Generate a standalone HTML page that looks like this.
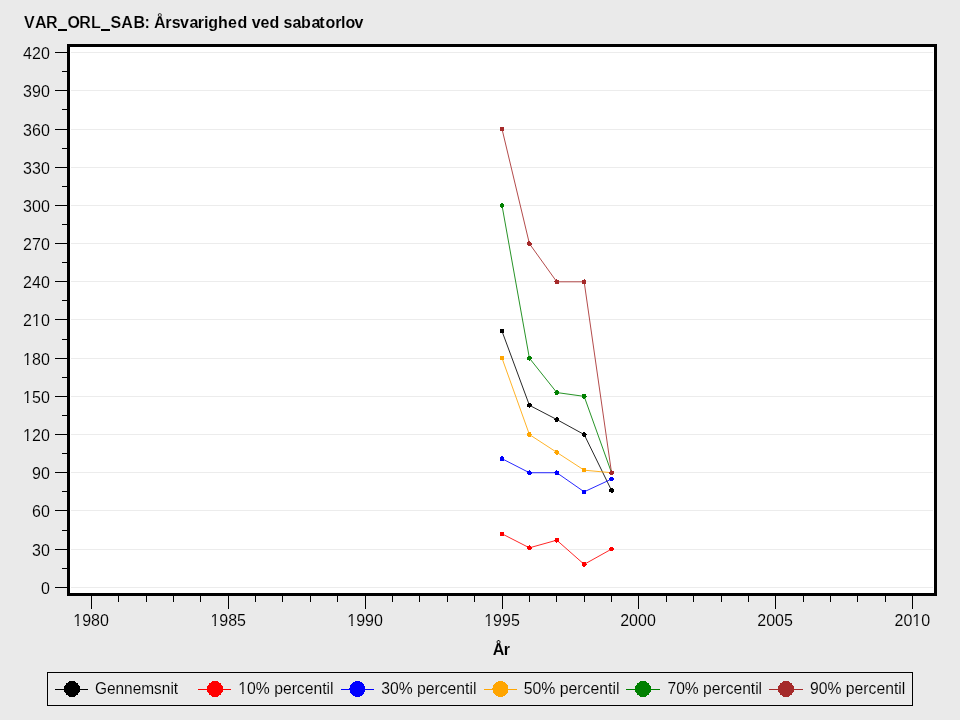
<!DOCTYPE html>
<html><head><meta charset="utf-8"><title>VAR_ORL_SAB</title>
<style>html,body{margin:0;padding:0;background:#EAEAEA;overflow:hidden}svg{display:block}text{font-family:"Liberation Sans",sans-serif;font-size:16px;fill:#000;stroke:#EAEAEA;stroke-width:0.1px}.b{font-weight:bold;stroke:#EAEAEA;stroke-width:0.15px}.c{stroke-width:0.07px}</style></head><body>
<svg width="960" height="720" viewBox="0 0 960 720" style="will-change:transform">
<rect x="0" y="0" width="960" height="720" fill="#EAEAEA"/>
<rect x="70" y="47" width="864" height="546" fill="#fff"/>
<g shape-rendering="crispEdges" fill="#ECECEC">
<rect x="71" y="587" width="862" height="1"/>
<rect x="71" y="549" width="862" height="1"/>
<rect x="71" y="510" width="862" height="1"/>
<rect x="71" y="472" width="862" height="1"/>
<rect x="71" y="434" width="862" height="1"/>
<rect x="71" y="396" width="862" height="1"/>
<rect x="71" y="358" width="862" height="1"/>
<rect x="71" y="319" width="862" height="1"/>
<rect x="71" y="281" width="862" height="1"/>
<rect x="71" y="243" width="862" height="1"/>
<rect x="71" y="205" width="862" height="1"/>
<rect x="71" y="167" width="862" height="1"/>
<rect x="71" y="129" width="862" height="1"/>
<rect x="71" y="90" width="862" height="1"/>
<rect x="71" y="52" width="862" height="1"/>
</g>
<g shape-rendering="crispEdges" fill="#000">
<rect x="67" y="44" width="870" height="3"/>
<rect x="67" y="593" width="870" height="3"/>
<rect x="67" y="44" width="3" height="552"/>
<rect x="934" y="44" width="3" height="552"/>
<rect x="55" y="587" width="12" height="1"/>
<rect x="62" y="568" width="5" height="1"/>
<rect x="55" y="549" width="12" height="1"/>
<rect x="62" y="530" width="5" height="1"/>
<rect x="55" y="510" width="12" height="1"/>
<rect x="62" y="491" width="5" height="1"/>
<rect x="55" y="472" width="12" height="1"/>
<rect x="62" y="453" width="5" height="1"/>
<rect x="55" y="434" width="12" height="1"/>
<rect x="62" y="415" width="5" height="1"/>
<rect x="55" y="396" width="12" height="1"/>
<rect x="62" y="377" width="5" height="1"/>
<rect x="55" y="358" width="12" height="1"/>
<rect x="62" y="339" width="5" height="1"/>
<rect x="55" y="319" width="12" height="1"/>
<rect x="62" y="300" width="5" height="1"/>
<rect x="55" y="281" width="12" height="1"/>
<rect x="62" y="262" width="5" height="1"/>
<rect x="55" y="243" width="12" height="1"/>
<rect x="62" y="224" width="5" height="1"/>
<rect x="55" y="205" width="12" height="1"/>
<rect x="62" y="186" width="5" height="1"/>
<rect x="55" y="167" width="12" height="1"/>
<rect x="62" y="148" width="5" height="1"/>
<rect x="55" y="129" width="12" height="1"/>
<rect x="62" y="109" width="5" height="1"/>
<rect x="55" y="90" width="12" height="1"/>
<rect x="62" y="71" width="5" height="1"/>
<rect x="55" y="52" width="12" height="1"/>
<rect x="91" y="596" width="1" height="13"/>
<rect x="118" y="596" width="1" height="6"/>
<rect x="146" y="596" width="1" height="6"/>
<rect x="173" y="596" width="1" height="6"/>
<rect x="200" y="596" width="1" height="6"/>
<rect x="228" y="596" width="1" height="13"/>
<rect x="255" y="596" width="1" height="6"/>
<rect x="282" y="596" width="1" height="6"/>
<rect x="310" y="596" width="1" height="6"/>
<rect x="337" y="596" width="1" height="6"/>
<rect x="365" y="596" width="1" height="13"/>
<rect x="392" y="596" width="1" height="6"/>
<rect x="419" y="596" width="1" height="6"/>
<rect x="447" y="596" width="1" height="6"/>
<rect x="474" y="596" width="1" height="6"/>
<rect x="502" y="596" width="1" height="13"/>
<rect x="529" y="596" width="1" height="6"/>
<rect x="556" y="596" width="1" height="6"/>
<rect x="584" y="596" width="1" height="6"/>
<rect x="611" y="596" width="1" height="6"/>
<rect x="638" y="596" width="1" height="13"/>
<rect x="666" y="596" width="1" height="6"/>
<rect x="693" y="596" width="1" height="6"/>
<rect x="721" y="596" width="1" height="6"/>
<rect x="748" y="596" width="1" height="6"/>
<rect x="775" y="596" width="1" height="13"/>
<rect x="803" y="596" width="1" height="6"/>
<rect x="830" y="596" width="1" height="6"/>
<rect x="857" y="596" width="1" height="6"/>
<rect x="885" y="596" width="1" height="6"/>
<rect x="912" y="596" width="1" height="13"/>
</g>
<g text-anchor="end">
<text x="50" y="594">0</text>
<text x="50" y="556" textLength="18" lengthAdjust="spacing">30</text>
<text x="50" y="517" textLength="18" lengthAdjust="spacing">60</text>
<text x="50" y="479" textLength="18" lengthAdjust="spacing">90</text>
<text x="50" y="441" textLength="27" lengthAdjust="spacing">120</text>
<text x="50" y="403" textLength="27" lengthAdjust="spacing">150</text>
<text x="50" y="365" textLength="27" lengthAdjust="spacing">180</text>
<text x="50" y="326" textLength="27" lengthAdjust="spacing">210</text>
<text x="50" y="288" textLength="27" lengthAdjust="spacing">240</text>
<text x="50" y="250" textLength="27" lengthAdjust="spacing">270</text>
<text x="50" y="212" textLength="27" lengthAdjust="spacing">300</text>
<text x="50" y="174" textLength="27" lengthAdjust="spacing">330</text>
<text x="50" y="136" textLength="27" lengthAdjust="spacing">360</text>
<text x="50" y="97" textLength="27" lengthAdjust="spacing">390</text>
<text x="50" y="59" textLength="27" lengthAdjust="spacing">420</text>
</g>
<g text-anchor="middle">
<text x="91.1" y="626">1980</text>
<text x="228.2" y="626">1985</text>
<text x="365.1" y="626">1990</text>
<text x="502.0" y="626">1995</text>
<text x="638.0" y="626">2000</text>
<text x="775.1" y="626">2005</text>
<text x="912.3" y="626">2010</text>
<text class="b c" text-anchor="start" x="492.85 503.85" y="655">År</text>
</g>
<text class="b" x="24.00 35.10 46.00 67.40 79.20 90.90 110.50 121.30 133.60 144.50 153.90" y="28">VARORLSAB:Å</text>
<text class="b c" x="165.25 171.70 179.90 189.50 197.65 203.90 208.30 217.90 228.10 237.60 251.80 260.40 269.60 283.40 292.50 300.95 311.50 319.30 325.50 335.20 341.10 345.40 354.50" y="28">rsvarighedvedsabatorlov</text>
<rect x="58" y="29" width="9" height="2" fill="#000" shape-rendering="crispEdges"/>
<rect x="101" y="29" width="9" height="2" fill="#000" shape-rendering="crispEdges"/>
<polyline points="502.02,331.25 529.40,405.27 556.78,419.52 584.16,434.54 611.54,490.42" fill="none" stroke="#000000" stroke-width="0.85"/>
<circle cx="502.02" cy="331.25" r="2.42" fill="#000000" shape-rendering="crispEdges"/>
<circle cx="529.40" cy="405.27" r="2.42" fill="#000000" shape-rendering="crispEdges"/>
<circle cx="556.78" cy="419.52" r="2.42" fill="#000000" shape-rendering="crispEdges"/>
<circle cx="584.16" cy="434.54" r="2.42" fill="#000000" shape-rendering="crispEdges"/>
<circle cx="611.54" cy="490.42" r="2.42" fill="#000000" shape-rendering="crispEdges"/>
<polyline points="502.02,533.82 529.40,547.82 556.78,540.18 584.16,564.37 611.54,549.09" fill="none" stroke="#FF0000" stroke-width="0.85"/>
<circle cx="502.02" cy="533.82" r="2.42" fill="#FF0000" shape-rendering="crispEdges"/>
<circle cx="529.40" cy="547.82" r="2.42" fill="#FF0000" shape-rendering="crispEdges"/>
<circle cx="556.78" cy="540.18" r="2.42" fill="#FF0000" shape-rendering="crispEdges"/>
<circle cx="584.16" cy="564.37" r="2.42" fill="#FF0000" shape-rendering="crispEdges"/>
<circle cx="611.54" cy="549.09" r="2.42" fill="#FF0000" shape-rendering="crispEdges"/>
<polyline points="502.02,458.72 529.40,472.72 556.78,472.72 584.16,491.82 611.54,479.09" fill="none" stroke="#0000FF" stroke-width="0.85"/>
<circle cx="502.02" cy="458.72" r="2.42" fill="#0000FF" shape-rendering="crispEdges"/>
<circle cx="529.40" cy="472.72" r="2.42" fill="#0000FF" shape-rendering="crispEdges"/>
<circle cx="556.78" cy="472.72" r="2.42" fill="#0000FF" shape-rendering="crispEdges"/>
<circle cx="584.16" cy="491.82" r="2.42" fill="#0000FF" shape-rendering="crispEdges"/>
<circle cx="611.54" cy="479.09" r="2.42" fill="#0000FF" shape-rendering="crispEdges"/>
<polyline points="502.02,358.17 529.40,434.54 556.78,452.36 584.16,470.18 611.54,472.72" fill="none" stroke="#FFA500" stroke-width="0.85"/>
<circle cx="502.02" cy="358.17" r="2.42" fill="#FFA500" shape-rendering="crispEdges"/>
<circle cx="529.40" cy="434.54" r="2.42" fill="#FFA500" shape-rendering="crispEdges"/>
<circle cx="556.78" cy="452.36" r="2.42" fill="#FFA500" shape-rendering="crispEdges"/>
<circle cx="584.16" cy="470.18" r="2.42" fill="#FFA500" shape-rendering="crispEdges"/>
<circle cx="611.54" cy="472.72" r="2.42" fill="#FFA500" shape-rendering="crispEdges"/>
<polyline points="502.02,205.44 529.40,358.17 556.78,392.54 584.16,396.36 611.54,472.72" fill="none" stroke="#008000" stroke-width="0.85"/>
<circle cx="502.02" cy="205.44" r="2.42" fill="#008000" shape-rendering="crispEdges"/>
<circle cx="529.40" cy="358.17" r="2.42" fill="#008000" shape-rendering="crispEdges"/>
<circle cx="556.78" cy="392.54" r="2.42" fill="#008000" shape-rendering="crispEdges"/>
<circle cx="584.16" cy="396.36" r="2.42" fill="#008000" shape-rendering="crispEdges"/>
<circle cx="611.54" cy="472.72" r="2.42" fill="#008000" shape-rendering="crispEdges"/>
<polyline points="502.02,129.07 529.40,243.62 556.78,281.80 584.16,281.80 611.54,472.72" fill="none" stroke="#A52A2A" stroke-width="0.85"/>
<circle cx="502.02" cy="129.07" r="2.42" fill="#A52A2A" shape-rendering="crispEdges"/>
<circle cx="529.40" cy="243.62" r="2.42" fill="#A52A2A" shape-rendering="crispEdges"/>
<circle cx="556.78" cy="281.80" r="2.42" fill="#A52A2A" shape-rendering="crispEdges"/>
<circle cx="584.16" cy="281.80" r="2.42" fill="#A52A2A" shape-rendering="crispEdges"/>
<circle cx="611.54" cy="472.72" r="2.42" fill="#A52A2A" shape-rendering="crispEdges"/>
<rect x="47.5" y="672.5" width="865" height="33" fill="none" stroke="#000" stroke-width="1" shape-rendering="crispEdges"/>
<rect x="55" y="689" width="33" height="1" fill="#000000" shape-rendering="crispEdges"/>
<circle cx="72.0" cy="689" r="8" fill="#000000" shape-rendering="crispEdges"/>
<text x="94.90" y="694" textLength="83.2" lengthAdjust="spacingAndGlyphs">Gennemsnit</text>
<rect x="198" y="689" width="33" height="1" fill="#FF0000" shape-rendering="crispEdges"/>
<circle cx="215.0" cy="689" r="8" fill="#FF0000" shape-rendering="crispEdges"/>
<text x="238.30" y="694" textLength="95.3" lengthAdjust="spacingAndGlyphs">10% percentil</text>
<rect x="341" y="689" width="33" height="1" fill="#0000FF" shape-rendering="crispEdges"/>
<circle cx="357.3" cy="689" r="8" fill="#0000FF" shape-rendering="crispEdges"/>
<text x="381.20" y="694" textLength="95.2" lengthAdjust="spacingAndGlyphs">30% percentil</text>
<rect x="484" y="689" width="33" height="1" fill="#FFA500" shape-rendering="crispEdges"/>
<circle cx="500.4" cy="689" r="8" fill="#FFA500" shape-rendering="crispEdges"/>
<text x="523.70" y="694" textLength="95.8" lengthAdjust="spacingAndGlyphs">50% percentil</text>
<rect x="626" y="689" width="34" height="1" fill="#008000" shape-rendering="crispEdges"/>
<circle cx="643.0" cy="689" r="8" fill="#008000" shape-rendering="crispEdges"/>
<text x="667.50" y="694" textLength="94.6" lengthAdjust="spacingAndGlyphs">70% percentil</text>
<rect x="769" y="689" width="34" height="1" fill="#A52A2A" shape-rendering="crispEdges"/>
<circle cx="786.0" cy="689" r="8" fill="#A52A2A" shape-rendering="crispEdges"/>
<text x="810.05" y="694" textLength="95.2" lengthAdjust="spacingAndGlyphs">90% percentil</text>
<g fill="#EAEAEA"><rect x="23.70" y="439.00" width="3.32" height="2.3"/><rect x="28.44" y="439.00" width="3.26" height="2.3"/><rect x="23.70" y="401.00" width="3.32" height="2.3"/><rect x="28.44" y="401.00" width="3.26" height="2.3"/><rect x="23.70" y="363.00" width="3.32" height="2.3"/><rect x="28.44" y="363.00" width="3.26" height="2.3"/><rect x="32.75" y="324.00" width="3.32" height="2.3"/><rect x="37.49" y="324.00" width="3.26" height="2.3"/><rect x="74.00" y="624.00" width="3.32" height="2.3"/><rect x="78.75" y="624.00" width="3.26" height="2.3"/><rect x="211.10" y="624.00" width="3.32" height="2.3"/><rect x="215.85" y="624.00" width="3.26" height="2.3"/><rect x="348.00" y="624.00" width="3.32" height="2.3"/><rect x="352.75" y="624.00" width="3.26" height="2.3"/><rect x="484.90" y="624.00" width="3.32" height="2.3"/><rect x="489.65" y="624.00" width="3.26" height="2.3"/><rect x="913.00" y="624.00" width="3.32" height="2.3"/><rect x="917.74" y="624.00" width="3.26" height="2.3"/><rect x="238.99" y="692.00" width="3.27" height="2.3"/><rect x="243.65" y="692.00" width="3.21" height="2.3"/></g>
</svg></body></html>
